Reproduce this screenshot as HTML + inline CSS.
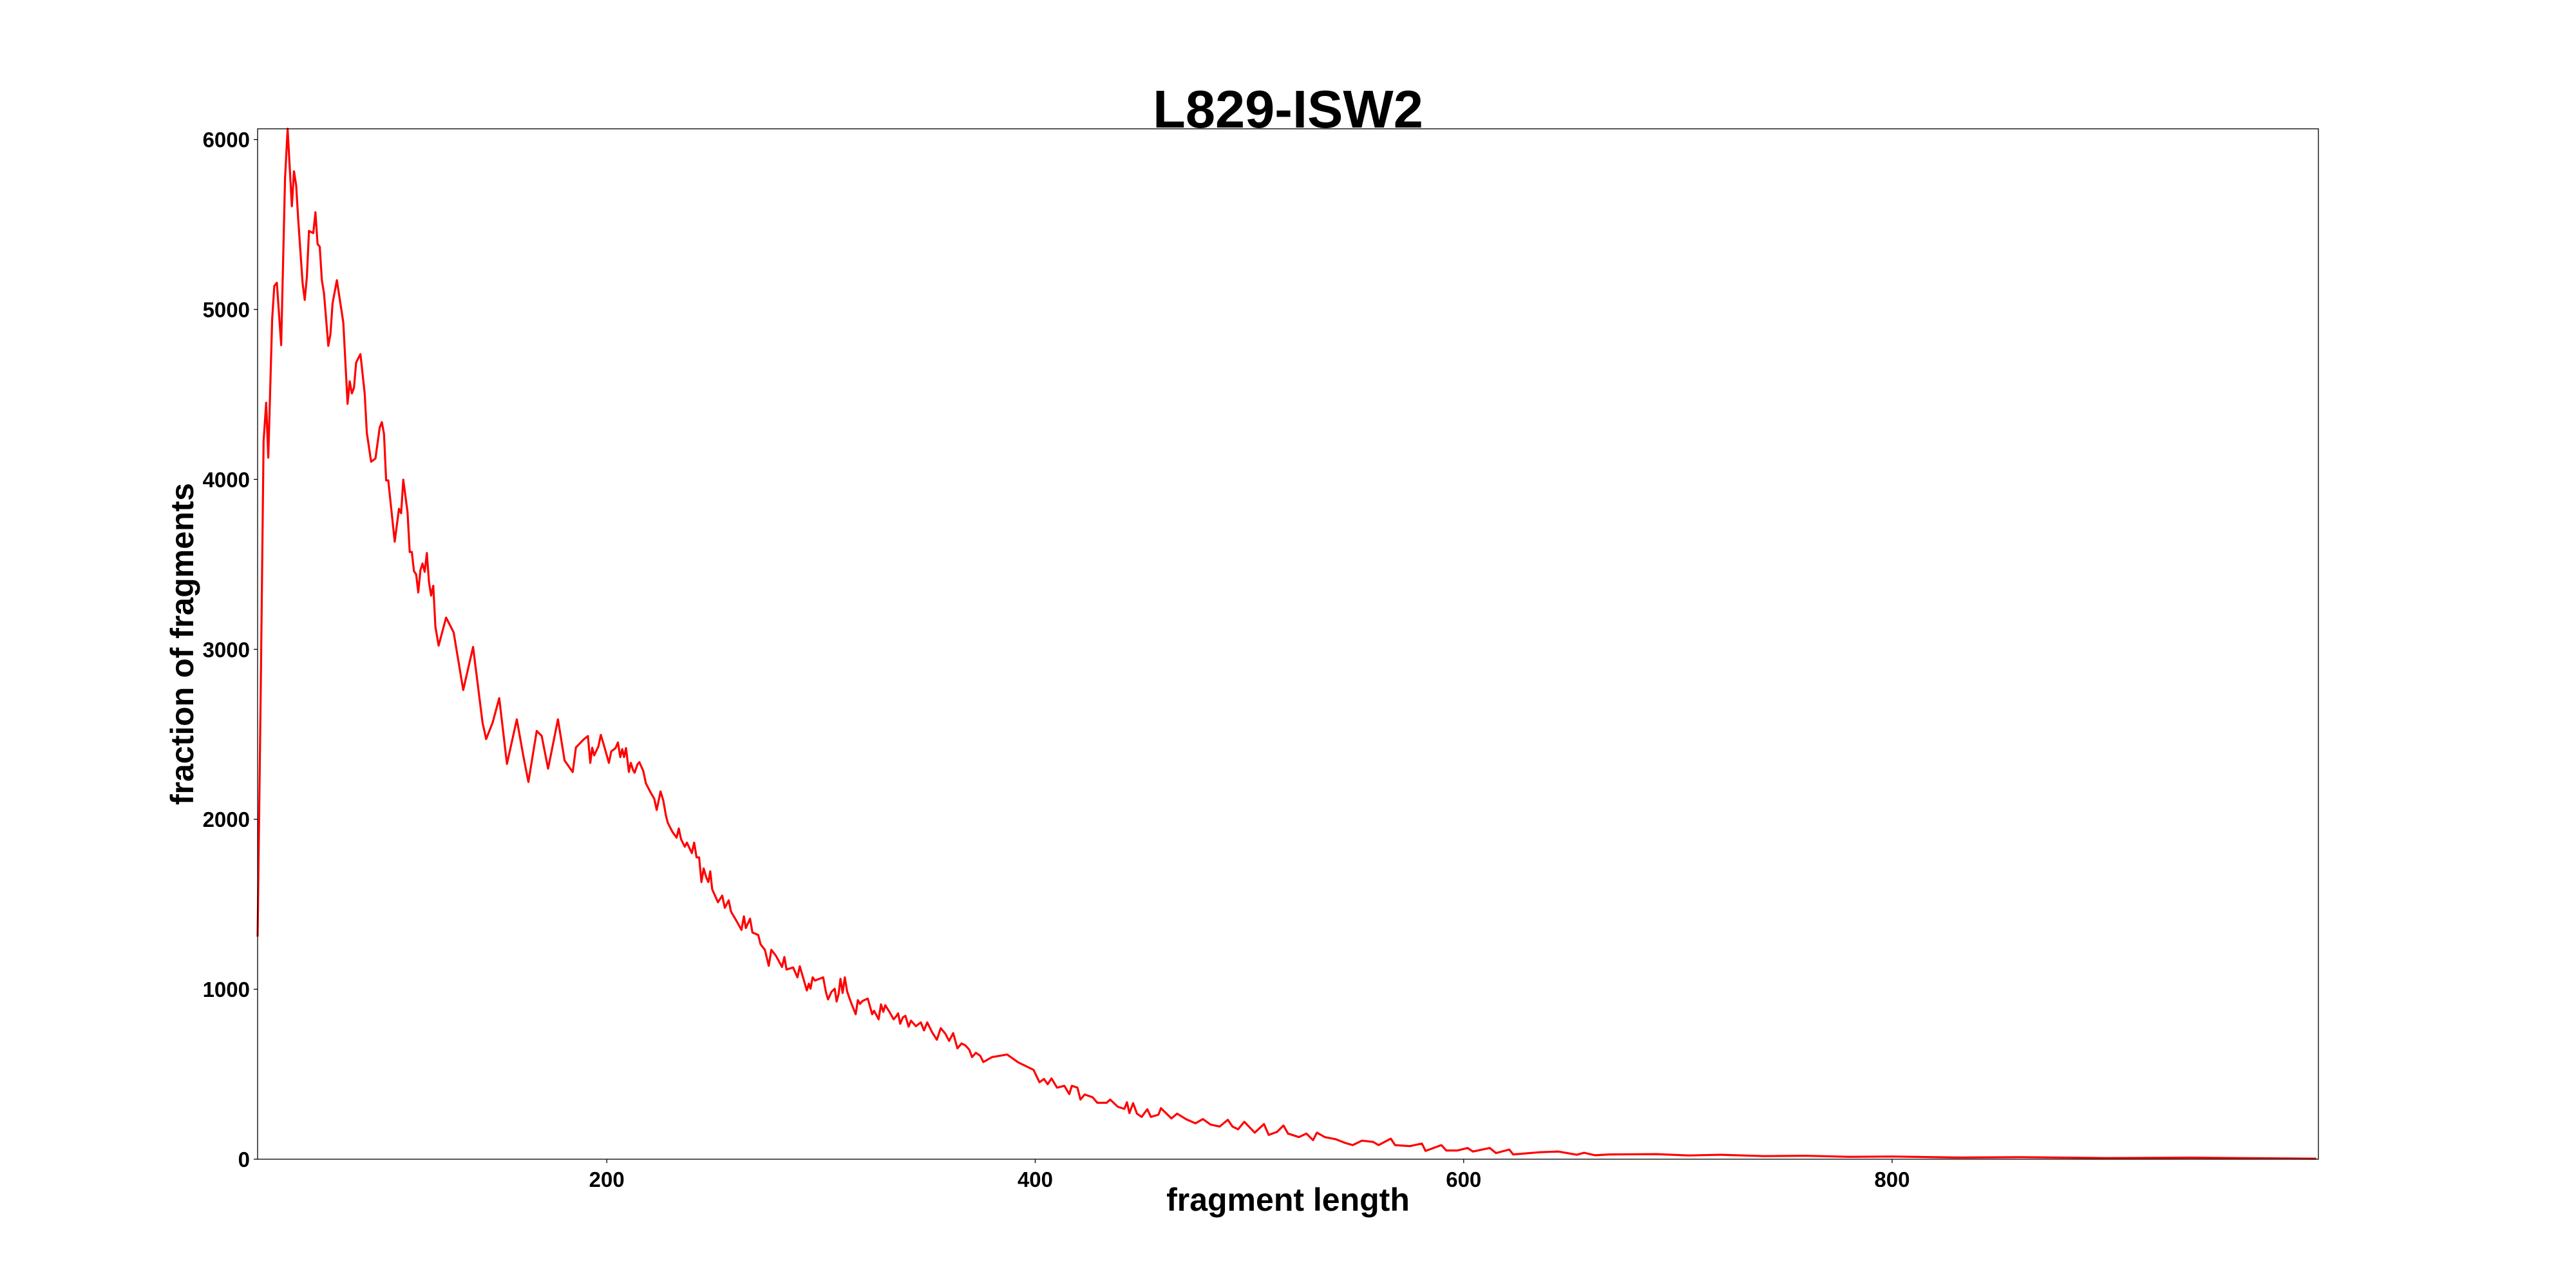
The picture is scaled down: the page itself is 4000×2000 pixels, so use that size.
<!DOCTYPE html>
<html><head><meta charset="utf-8"><style>
html,body{margin:0;padding:0;background:#fff}
svg{display:block}
text{font-family:"Liberation Sans","DejaVu Sans",sans-serif;font-weight:bold;fill:#000}
</style></head><body>
<svg id="chart" width="4000" height="2000" viewBox="0 0 4000 2000" xmlns="http://www.w3.org/2000/svg">
<rect x="0" y="0" width="4000" height="2000" fill="#fff"/>
<text x="2000" y="198" font-size="83" text-anchor="middle">L829-ISW2</text>
<g id="plot"></g>
<text x="2000" y="1880" font-size="50" text-anchor="middle">fragment length</text>
<text x="0" y="0" font-size="50" text-anchor="middle" transform="translate(300,1000) rotate(-90)">fraction of fragments</text>
</svg>
<script>
const fragLengths = [37,38.5,39.8,41,42,43.8,44.8,46,48,49.8,51,53,54,55,56,58,59,60,61,63,64,65,66,67,68,70,71,72,74,77,79,80,81,82,83,85,87,88,90,92,94,95,96,97,98,101,103,104,105,107,108,109,110,111,112,113,114,115,116,117,118,119,120,121.5,125,128.5,133,137.6,142,143.7,146.7,149.8,153.4,158,161,163.4,167.3,169.6,172.6,177.2,180.3,184.1,185.6,189.4,
191.2,192.3,193.2,194.1,196.1,197.2,198.3,201,202.1,204.1,205.2,206.3,207.2,208.1,209,210.3,211.2,212.3,213,214.3,215.2,217,218.3,220.2,222.2,223.3,225.1,226.4,227.6,228.5,230.7,232.6,233.6,234.7,236.4,237.4,239.7,240.8,241.9,243.1,244.2,245.2,246.5,247.4,248.3,249.2,251.9,253.9,255.1,256.9,258,260.9,262.9,264,264.9,266.9,268,270.7,271.8,273.8,275.6,276.8,279,281.8,282.9,283.9,287,289,290.1,293.4,294.3,295.1,296.1,297.2,301,302.3,303.3,304.9,306.4,307.3,308.2,309.1,310.1,311.1,312.2,313.2,314.5,316.2,317.2,318.2,319.4,321.8,323,323.9,324.8,326.9,328,329.1,330,331.8,333.9,335.1,336,337,338.2,339.4,340.9,342,344.3,346.6,348.1,349.6,351.9,354.1,355.9,358,359.8,361.7,363.7,365.6,367.4,369.2,370.5,372.3,374.3,375.8,379.9,386.9,392,
399.2,402,404.1,405.8,407.6,410.2,413.6,415.9,417.1,419.7,421.1,423.1,426.8,429,433.3,435,438.5,441.6,442.8,444,445.7,447.5,449.7,452.3,454,457.5,458.7,463.6,466.2,470.5,474.8,478.3,481.8,486.1,489.9,492.1,494.7,497.6,502.5,506.8,509,512.8,515.9,518,523.1,526.6,529.7,531.5,535.2,540.4,544.7,548.2,552.5,557.7,560.3,566,568,574.9,580.5,582.2,589.6,591.9,597.1,601.8,604.4,612.2,615.1,621.3,623.1,635.5,644.1,652.8,656.2,661.4,668,
690,705,720,740,760,780,800,830,860,900,940,980,998];
const fragCounts = [1310,2800,4225,4451,4128,4941,5138,5157,4790,5771,6063,5608,5813,5730,5521,5154,5056,5191,5462,5449,5572,5385,5369,5172,5095,4786,4854,5036,5172,4922,4445,4577,4506,4540,4688,4737,4506,4274,4104,4123,4305,4337,4267,3994,3994,3634,3827,3801,3998,3808,3573,3573,3460,3441,3335,3465,3505,3456,3567,3397,3316,3374,3133,3022,3187,3100,2761,3014,2568,2472,2568,2713,2326,2588,2375,2220,2520,2491,2298,2588,2346,2278,2423,2472,
2490,2332,2421,2376,2429,2497,2452,2332,2400,2419,2452,2366,2413,2366,2419,2279,2332,2289,2274,2323,2336,2285,2210,2164,2120,2055,2164,2110,2023,1979,1925,1892,1946,1882,1839,1863,1801,1863,1776,1776,1631,1711,1656,1631,1694,1588,1512,1551,1479,1523,1457,1394,1349,1429,1360,1415,1334,1319,1264,1232,1138,1232,1196,1131,1190,1116,1128,1070,1135,993,1033,1003,1070,1051,1070,983,940,985,1003,928,970,1061,978,1070,988,950,906,853,936,914,931,945,892,853,873,823,911,867,906,870,823,841,858,797,834,844,780,815,783,805,758,805,746,703,771,739,696,742,652,681,670,645,601,626,609,572,601,616,570,
526,453,472,441,475,421,432,383,432,421,351,381,364,332,332,351,309,296,335,271,330,268,249,294,249,262,300,240,268,235,211,236,204,192,232,192,176,220,156,207,143,160,198,151,130,151,112,156,130,117,96,83,109,102,83,121,83,77,92,49,83,51,51,66,45,66,36,57,28,41,45,26,38,23,28,
30,22,26,18,20,14,16,10,12,7,9,5,3];
const xTicks = [200,400,600,800];
const yTicks = [0,1000,2000,3000,4000,5000,6000];
const xMin = 37, xMax = 999, yMin = 0, yMax = 6063;
const L = 400, R = 3600, T = 200, B = 1800;
const NS = 'http://www.w3.org/2000/svg';
function xs(v){return L + (v - xMin) / (xMax - xMin) * (R - L);}
function ys(v){return B - (v - yMin) / (yMax - yMin) * (B - T);}
const g = document.getElementById('plot');
function mk(tag, attrs){const e=document.createElementNS(NS,tag);for(const k in attrs)e.setAttribute(k,attrs[k]);g.appendChild(e);return e;}
let d = '';
for (let i = 0; i < fragLengths.length; i++) d += (i ? 'L' : 'M') + xs(fragLengths[i]).toFixed(1) + ' ' + ys(fragCounts[i]).toFixed(1);
const line = mk('path', {d: d, fill: 'none', stroke: '#ff0000', 'stroke-width': 3.2, 'stroke-linejoin': 'round'});


const frame = mk('rect', {x: L, y: T, width: R - L, height: B - T, fill: 'none', stroke: '#000', 'stroke-width': 1.3});


xTicks.forEach(v => {
  const t = mk('line', {x1: xs(v), x2: xs(v), y1: B, y2: B + 6, stroke: '#000', 'stroke-width': 1.3});
  
  
  const lb = mk('text', {x: xs(v), y: B + 43, 'font-size': 33, 'text-anchor': 'middle'});
  lb.textContent = v;
  
  
});
yTicks.forEach(v => {
  const t = mk('line', {x1: L - 6, x2: L, y1: ys(v), y2: ys(v), stroke: '#000', 'stroke-width': 1.3});
  
  
  const lb = mk('text', {x: L - 12, y: ys(v) + 12, 'font-size': 33, 'text-anchor': 'end'});
  lb.textContent = v;
  
  
});
</script>
</body></html>
